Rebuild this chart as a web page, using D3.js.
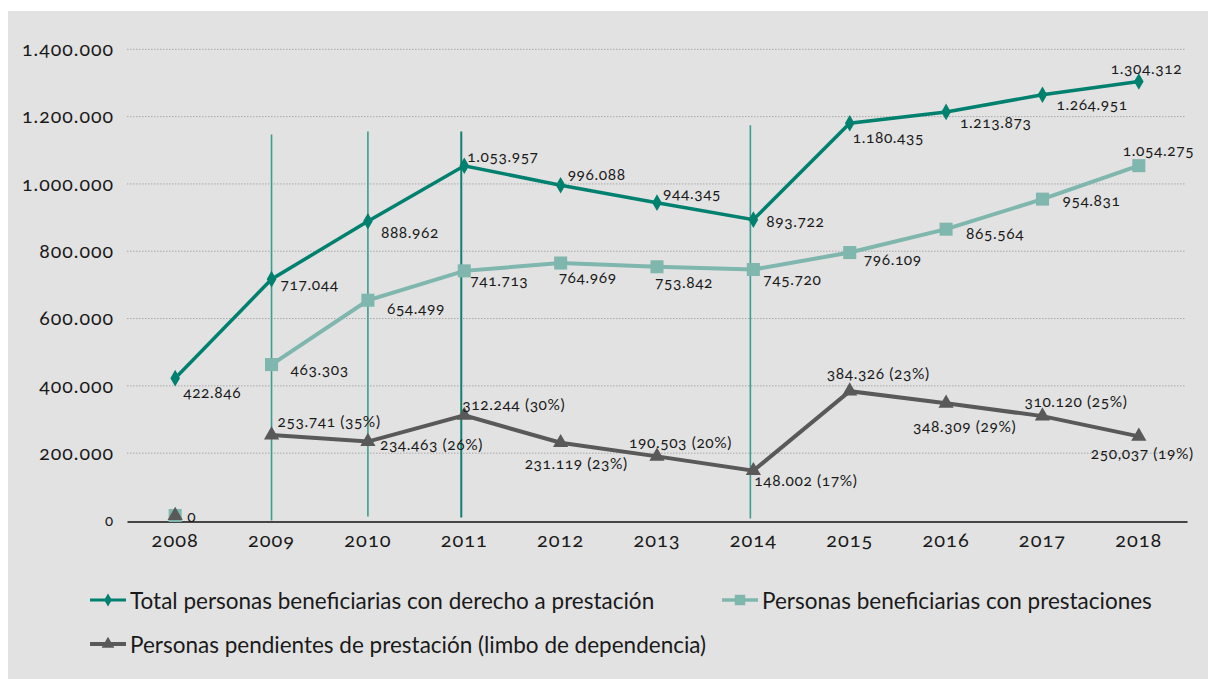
<!DOCTYPE html>
<html><head><meta charset="utf-8">
<script src="https://cdn.jsdelivr.net/npm/d3@7"></script>
<style>
html,body{margin:0;padding:0;background:#fff;}
svg text{font-family:Lato,"Open Sans",sans-serif;fill:#1a1a1a;}
.num{font-variant-numeric:oldstyle-nums;font-feature-settings:"onum" 1;}
</style></head>
<body>
<svg id="c" width="1208" height="679"></svg>
<script>
const years = ["2008","2009","2010","2011","2012","2013","2014","2015","2016","2017","2018"];
const totalValues = [422846,717044,888962,1053957,996088,944345,893722,1180435,1213873,1264951,1304312];
const prestValues = [0,463303,654499,741713,764969,753842,745720,796109,865564,954831,1054275];
const pendValues  = [0,253741,234463,312244,231119,190503,148002,384326,348309,310120,250037];
const totalLabels = ["422.846","717.044","888.962","1.053.957","996.088","944.345","893.722","1.180.435","1.213.873","1.264.951","1.304.312"];
const prestLabels = ["","463.303","654.499","741.713","764.969","753.842","745.720","796.109","865.564","954.831","1.054.275"];
const pendLabels  = ["0","253.741 (35%)","234.463 (26%)","312.244 (30%)","231.119 (23%)","190.503 (20%)","148.002 (17%)","384.326 (23%)","348.309 (29%)","310.120 (25%)","250,037 (19%)"];
const yTicks = [0,200000,400000,600000,800000,1000000,1200000,1400000];
const yTickLabels = ["0","200.000","400.000","600.000","800.000","1.000.000","1.200.000","1.400.000"];
const seriesNames = ["Total personas beneficiarias con derecho a prestación","Personas beneficiarias con prestaciones","Personas pendientes de prestación (limbo de dependencia)"];
// annotation vertical lines: year and top value
const vlineYears = ["2009","2010","2011","2014"];
const vlineTops = [1147000,1156000,1156000,1174000];

// label offsets (styling)
const totalOff = [[8,14],[9,5],[13,11],[3,-10],[7,-11],[6,-10],[13,1],[3,14],[14,10],[14,9],[-28,-14]];
const prestOff = [null,[19,4],[19,8],[6,9],[-2,14],[-2,15],[10,9],[14,6],[20,4],[20,1],[-16,-16]];
const pendOff  = [[12,-5],[6,-14],[12,2],[-2,-11],[-36,20],[-28,-14],[1,9],[-23,-18],[-33,23],[-18,-15],[-48,17]];
const vlineDx = [0,0,-3,-3];
const vlineBottomDy = [0,-4,-3,-2];

const svg = d3.select("#c");
svg.append("rect").attr("x",8).attr("y",11).attr("width",1200).attr("height",668).attr("fill","#e2e2e2");

const x = d3.scaleBand().domain(years).range([127,1187]).paddingInner(0).paddingOuter(0);
const xc = d => x(d) + x.bandwidth()/2;
const y = d3.scaleLinear().domain([0,1400000]).range([520.5,49.3]);

// gridlines
const g = svg.append("g");
g.selectAll("line.grid").data(yTicks.filter(t=>t>0)).enter().append("line")
 .attr("x1",127).attr("x2",1186).attr("y1",d=>y(d)).attr("y2",d=>y(d))
 .attr("stroke","#a8a8a8").attr("stroke-width",1).attr("stroke-dasharray","1.5,1.5");

// y axis labels
const yAxis = d3.axisLeft(y).tickValues(yTicks).tickSize(0).tickPadding(0)
  .tickFormat((d,i)=>yTickLabels[i]);
const ya = svg.append("g").attr("transform","translate(114,0)").call(yAxis);
ya.select(".domain").remove();
ya.selectAll("text").attr("class","num").style("font-size","19.5px").attr("fill","#1a1a1a").attr("letter-spacing","1px");
ya.selectAll("text").filter((d)=>d===0).style("font-size","15px");

// x axis
const xAxis = d3.axisBottom(x).tickSize(0).tickPadding(11);
const xa = svg.append("g").attr("transform","translate(0,521.5)").call(xAxis);
xa.select(".domain").attr("stroke","#111").attr("stroke-width",1.6);
xa.selectAll("text").attr("class","num").style("font-size","20px").attr("fill","#1a1a1a").attr("letter-spacing","1px");

// vertical annotation lines
svg.selectAll("line.vl").data(vlineYears).enter().append("line")
 .attr("x1",(d,i)=>xc(d)+vlineDx[i]).attr("x2",(d,i)=>xc(d)+vlineDx[i])
 .attr("y1",(d,i)=>y(vlineTops[i])).attr("y2",(d,i)=>y(0)+vlineBottomDy[i])
 .attr("stroke",(d,i)=>i===2?"#10806f":"#3c9e90").attr("stroke-width",(d,i)=>i===2?2:1.6);

const line = d3.line().x(d=>xc(d.year)).y(d=>y(d.v));
function mk(vals){return vals.map((v,i)=>({year:years[i],v:v}));}
const totalData = mk(totalValues), prestData = mk(prestValues), pendData = mk(pendValues);

const cTotal="#00806e", cPrest="#7fb6ad", cPend="#595959";

svg.append("path").datum(pendData.slice(1)).attr("d",line).attr("fill","none").attr("stroke",cPend).attr("stroke-width",4);
svg.append("path").datum(prestData.slice(1)).attr("d",line).attr("fill","none").attr("stroke",cPrest).attr("stroke-width",4);
svg.append("path").datum(totalData).attr("d",line).attr("fill","none").attr("stroke",cTotal).attr("stroke-width",3.5);

// markers
const sq = d3.symbol().type(d3.symbolSquare).size(170);
const tri = d3.symbol().type(d3.symbolTriangle).size(100);
const dia = d3.symbol().type(d3.symbolDiamond).size(80);

svg.selectAll("path.sq").data(prestData).enter().append("path")
 .attr("d",sq).attr("transform",d=>`translate(${xc(d.year)},${y(d.v)-(d.v===0?5:0)})`).attr("fill",cPrest);
svg.selectAll("path.tri").data(pendData).enter().append("path")
 .attr("d",tri).attr("transform",d=>`translate(${xc(d.year)},${y(d.v)-(d.v===0?5:0)})`).attr("fill",cPend);
svg.selectAll("path.dia").data(totalData).enter().append("path")
 .attr("d",dia).attr("transform",d=>`translate(${xc(d.year)},${y(d.v)})`).attr("fill",cTotal);

// labels
function labels(data,labs,off){
  svg.append("g").selectAll("text").data(data.filter((d,i)=>labs[i]!=="" && off[i])).enter()
   .append("text").attr("class","num")
   .attr("x",d=>xc(d.year)+off[data.indexOf(d)][0])
   .attr("y",d=>y(d.v)+off[data.indexOf(d)][1])
   .attr("dominant-baseline","central")
   .style("font-size","15.5px").attr("letter-spacing","0.6px")
   .text(d=>labs[data.indexOf(d)]);
}
labels(totalData,totalLabels,totalOff);
labels(prestData,prestLabels,prestOff);
labels(pendData,pendLabels,pendOff);

// legend
const legend = [
  {name:seriesNames[0], color:cTotal, w:3, lx:90, ly:600},
  {name:seriesNames[1], color:cPrest, w:3.5, lx:722, ly:600},
  {name:seriesNames[2], color:cPend, w:4, lx:90, ly:644}
];
const lg = svg.append("g").selectAll("g").data(legend).enter().append("g")
 .attr("transform",d=>`translate(${d.lx},${d.ly})`);
lg.append("line").attr("x1",0).attr("x2",36).attr("y1",0).attr("y2",0).attr("stroke",d=>d.color).attr("stroke-width",d=>d.w);
lg.append("path").attr("d",(d,i)=>d3.symbol().type(i===0?d3.symbolDiamond:i===1?d3.symbolSquare:d3.symbolTriangle).size(i===0?50:i===1?110:70)())
 .attr("transform","translate(18,0)").attr("fill",d=>d.color);
lg.append("text").attr("x",40).attr("y",0).attr("dominant-baseline","central")
 .style("font-size",(d,i)=>i===1?"22.5px":"22.5px")
 .text(d=>d.name);
</script>
</body></html>
